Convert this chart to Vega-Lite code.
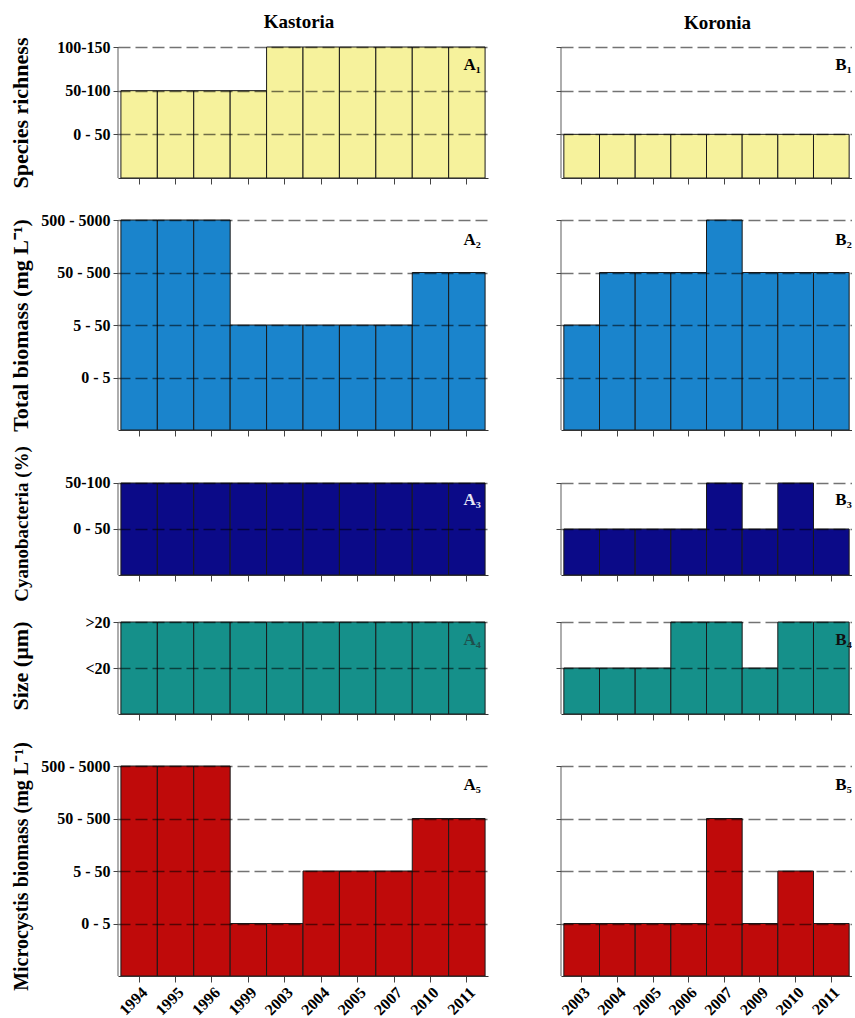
{
  "$schema": "https://vega.github.io/schema/vega-lite/v6.json",
  "padding": {"left": 9, "top": 13, "right": 0, "bottom": 0},
  "background": "white",
  "datasets": {
    "A1": [{"year": "1994", "level": 2}, {"year": "1995", "level": 2}, {"year": "1996", "level": 2}, {"year": "1999", "level": 2}, {"year": "2003", "level": 3}, {"year": "2004", "level": 3}, {"year": "2005", "level": 3}, {"year": "2007", "level": 3}, {"year": "2010", "level": 3}, {"year": "2011", "level": 3}],
    "A2": [{"year": "1994", "level": 4}, {"year": "1995", "level": 4}, {"year": "1996", "level": 4}, {"year": "1999", "level": 2}, {"year": "2003", "level": 2}, {"year": "2004", "level": 2}, {"year": "2005", "level": 2}, {"year": "2007", "level": 2}, {"year": "2010", "level": 3}, {"year": "2011", "level": 3}],
    "A3": [{"year": "1994", "level": 2}, {"year": "1995", "level": 2}, {"year": "1996", "level": 2}, {"year": "1999", "level": 2}, {"year": "2003", "level": 2}, {"year": "2004", "level": 2}, {"year": "2005", "level": 2}, {"year": "2007", "level": 2}, {"year": "2010", "level": 2}, {"year": "2011", "level": 2}],
    "A4": [{"year": "1994", "level": 2}, {"year": "1995", "level": 2}, {"year": "1996", "level": 2}, {"year": "1999", "level": 2}, {"year": "2003", "level": 2}, {"year": "2004", "level": 2}, {"year": "2005", "level": 2}, {"year": "2007", "level": 2}, {"year": "2010", "level": 2}, {"year": "2011", "level": 2}],
    "A5": [{"year": "1994", "level": 4}, {"year": "1995", "level": 4}, {"year": "1996", "level": 4}, {"year": "1999", "level": 1}, {"year": "2003", "level": 1}, {"year": "2004", "level": 2}, {"year": "2005", "level": 2}, {"year": "2007", "level": 2}, {"year": "2010", "level": 3}, {"year": "2011", "level": 3}],
    "B1": [{"year": "2003", "level": 1}, {"year": "2004", "level": 1}, {"year": "2005", "level": 1}, {"year": "2006", "level": 1}, {"year": "2007", "level": 1}, {"year": "2009", "level": 1}, {"year": "2010", "level": 1}, {"year": "2011", "level": 1}],
    "B2": [{"year": "2003", "level": 2}, {"year": "2004", "level": 3}, {"year": "2005", "level": 3}, {"year": "2006", "level": 3}, {"year": "2007", "level": 4}, {"year": "2009", "level": 3}, {"year": "2010", "level": 3}, {"year": "2011", "level": 3}],
    "B3": [{"year": "2003", "level": 1}, {"year": "2004", "level": 1}, {"year": "2005", "level": 1}, {"year": "2006", "level": 1}, {"year": "2007", "level": 2}, {"year": "2009", "level": 1}, {"year": "2010", "level": 2}, {"year": "2011", "level": 1}],
    "B4": [{"year": "2003", "level": 1}, {"year": "2004", "level": 1}, {"year": "2005", "level": 1}, {"year": "2006", "level": 2}, {"year": "2007", "level": 2}, {"year": "2009", "level": 1}, {"year": "2010", "level": 2}, {"year": "2011", "level": 2}],
    "B5": [{"year": "2003", "level": 1}, {"year": "2004", "level": 1}, {"year": "2005", "level": 1}, {"year": "2006", "level": 1}, {"year": "2007", "level": 3}, {"year": "2009", "level": 1}, {"year": "2010", "level": 2}, {"year": "2011", "level": 1}]
  },
  "hconcat": [
    {
      "vconcat": [
        {
          "width": 370, "height": 131,
          "title": {"text": "Kastoria", "offset": 5, "dx": -4},
          "data": {"name": "A1"},
          "layer": [
            {"mark": {"type": "bar", "color": "#F6F29C", "stroke": "#1a1a1a", "strokeWidth": 1},
             "encoding": {
               "x": {"field": "year", "type": "ordinal", "sort": null, "scale": {"paddingInner": 0, "paddingOuter": 0.08}, "axis": {"labels": false, "title": null, "tickSize": 6, "zindex": 1}},
               "y": {"field": "level", "type": "quantitative", "scale": {"domain": [0, 3], "nice": false}, "axis": {"values": [1, 2, 3], "labelExpr": "['', '0 - 50', '50-100', '100-150'][datum.value]", "title": "Species richness", "domain": false, "grid": true, "zindex": 1, "minExtent": 80, "maxExtent": 80, "titlePadding": 6}}
             }},
            {"data": {"values": [{}]}, "mark": {"type": "rule", "color": "#777", "strokeWidth": 1.2},
             "encoding": {"x": {"datum": "1994", "bandPosition": -0.08}, "y": {"datum": 0}, "y2": {"datum": 3}}},
            {"data": {"values": [{}]}, "mark": {"type": "text", "text": "A₁", "align": "right", "baseline": "top", "dx": 14, "dy": 10, "fontSize": 17, "fontWeight": "bold", "color": "#000"},
             "encoding": {"x": {"datum": "2011"}, "y": {"datum": 3}}}
          ]
        },
        {
          "width": 370, "height": 210,
          "data": {"name": "A2"},
          "layer": [
            {"mark": {"type": "bar", "color": "#1A84CC", "stroke": "#1a1a1a", "strokeWidth": 1},
             "encoding": {
               "x": {"field": "year", "type": "ordinal", "sort": null, "scale": {"paddingInner": 0, "paddingOuter": 0.08}, "axis": {"labels": false, "title": null, "tickSize": 6, "zindex": 1}},
               "y": {"field": "level", "type": "quantitative", "scale": {"domain": [0, 4], "nice": false}, "axis": {"values": [1, 2, 3, 4], "labelExpr": "['', '0 - 5', '5 - 50', '50 - 500', '500 - 5000'][datum.value]", "title": "Total biomass (mg L⁻¹)", "domain": false, "grid": true, "zindex": 1, "minExtent": 80, "maxExtent": 80, "titlePadding": 6}}
             }},
            {"data": {"values": [{}]}, "mark": {"type": "rule", "color": "#777", "strokeWidth": 1.2},
             "encoding": {"x": {"datum": "1994", "bandPosition": -0.08}, "y": {"datum": 0}, "y2": {"datum": 4}}},
            {"data": {"values": [{}]}, "mark": {"type": "text", "text": "A₂", "align": "right", "baseline": "top", "dx": 14, "dy": 12, "fontSize": 17, "fontWeight": "bold", "color": "#000"},
             "encoding": {"x": {"datum": "2011"}, "y": {"datum": 4}}}
          ]
        },
        {
          "width": 370, "height": 103,
          "data": {"name": "A3"},
          "layer": [
            {"mark": {"type": "bar", "color": "#0B0A88", "stroke": "#1a1a1a", "strokeWidth": 1},
             "encoding": {
               "x": {"field": "year", "type": "ordinal", "sort": null, "scale": {"paddingInner": 0, "paddingOuter": 0.08}, "axis": {"labels": false, "title": null, "tickSize": 6, "zindex": 1}},
               "y": {"field": "level", "type": "quantitative", "scale": {"domain": [0, 2.2391], "nice": false}, "axis": {"values": [1, 2], "labelExpr": "['', '0 - 50', '50-100'][datum.value]", "title": "Cyanobacteria (%)", "titleFontSize": 19, "domain": false, "grid": true, "zindex": 1, "minExtent": 80, "maxExtent": 80, "titlePadding": 7}}
             }},
            {"data": {"values": [{}]}, "mark": {"type": "rule", "color": "#777", "strokeWidth": 1.2},
             "encoding": {"x": {"datum": "1994", "bandPosition": -0.08}, "y": {"datum": 0}, "y2": {"datum": 2}}},
            {"data": {"values": [{}]}, "mark": {"type": "text", "text": "A₃", "align": "right", "baseline": "top", "dx": 14, "dy": 9, "fontSize": 17, "fontWeight": "bold", "color": "#e6e6f5"},
             "encoding": {"x": {"datum": "2011"}, "y": {"datum": 2}}}
          ]
        },
        {
          "width": 370, "height": 97,
          "data": {"name": "A4"},
          "layer": [
            {"mark": {"type": "bar", "color": "#15908A", "stroke": "#1a1a1a", "strokeWidth": 1},
             "encoding": {
               "x": {"field": "year", "type": "ordinal", "sort": null, "scale": {"paddingInner": 0, "paddingOuter": 0.08}, "axis": {"labels": false, "title": null, "tickSize": 6, "zindex": 1}},
               "y": {"field": "level", "type": "quantitative", "scale": {"domain": [0, 2.1087], "nice": false}, "axis": {"values": [1, 2], "labelExpr": "['', '<20', '>20'][datum.value]", "title": "Size (µm)", "domain": false, "grid": true, "zindex": 1, "minExtent": 80, "maxExtent": 80, "titlePadding": 6}}
             }},
            {"data": {"values": [{}]}, "mark": {"type": "rule", "color": "#777", "strokeWidth": 1.2},
             "encoding": {"x": {"datum": "1994", "bandPosition": -0.08}, "y": {"datum": 0}, "y2": {"datum": 2}}},
            {"data": {"values": [{}]}, "mark": {"type": "text", "text": "A₄", "align": "right", "baseline": "top", "dx": 14, "dy": 10, "fontSize": 17, "fontWeight": "bold", "color": "#1f4f4c"},
             "encoding": {"x": {"datum": "2011"}, "y": {"datum": 2}}}
          ]
        },
        {
          "width": 370, "height": 220,
          "data": {"name": "A5"},
          "layer": [
            {"mark": {"type": "bar", "color": "#BF0A0A", "stroke": "#1a1a1a", "strokeWidth": 1},
             "encoding": {
               "x": {"field": "year", "type": "ordinal", "sort": null, "scale": {"paddingInner": 0, "paddingOuter": 0.08}, "axis": {"labelAngle": -45, "labelPadding": 2, "title": null, "tickSize": 6, "zindex": 1}},
               "y": {"field": "level", "type": "quantitative", "scale": {"domain": [0, 4.1905], "nice": false}, "axis": {"values": [1, 2, 3, 4], "labelExpr": "['', '0 - 5', '5 - 50', '50 - 500', '500 - 5000'][datum.value]", "title": "Microcystis biomass (mg L⁻¹)", "titleFontSize": 20, "domain": false, "grid": true, "zindex": 1, "minExtent": 80, "maxExtent": 80, "titlePadding": 7}}
             }},
            {"data": {"values": [{}]}, "mark": {"type": "rule", "color": "#777", "strokeWidth": 1.2},
             "encoding": {"x": {"datum": "1994", "bandPosition": -0.08}, "y": {"datum": 0}, "y2": {"datum": 4}}},
            {"data": {"values": [{}]}, "mark": {"type": "text", "text": "A₅", "align": "right", "baseline": "top", "dx": 14, "dy": 11, "fontSize": 17, "fontWeight": "bold", "color": "#000"},
             "encoding": {"x": {"datum": "2011"}, "y": {"datum": 4}}}
          ]
        }
      ],
      "spacing": 42, "bounds": "flush"
    },
    {
      "vconcat": [
        {
          "width": 291, "height": 131,
          "title": {"text": "Koronia", "offset": 13, "dx": 11},
          "data": {"name": "B1"},
          "layer": [
            {"mark": {"type": "bar", "color": "#F6F29C", "stroke": "#1a1a1a", "strokeWidth": 1},
             "encoding": {
               "x": {"field": "year", "type": "ordinal", "sort": null, "scale": {"paddingInner": 0, "paddingOuter": 0.08}, "axis": {"labels": false, "title": null, "tickSize": 6, "zindex": 1}},
               "y": {"field": "level", "type": "quantitative", "scale": {"domain": [0, 3], "nice": false}, "axis": {"values": [1, 2, 3], "labels": false, "title": null, "domain": false, "grid": true, "zindex": 1}}
             }},
            {"data": {"values": [{}]}, "mark": {"type": "rule", "color": "#777", "strokeWidth": 1.2},
             "encoding": {"x": {"datum": "2003", "bandPosition": -0.08}, "y": {"datum": 0}, "y2": {"datum": 3}}},
            {"data": {"values": [{}]}, "mark": {"type": "text", "text": "B₁", "align": "left", "baseline": "top", "dx": 4, "dy": 10, "fontSize": 17, "fontWeight": "bold", "color": "#000", "clip": true},
             "encoding": {"x": {"datum": "2011"}, "y": {"datum": 3}}}
          ]
        },
        {
          "width": 291, "height": 210,
          "data": {"name": "B2"},
          "layer": [
            {"mark": {"type": "bar", "color": "#1A84CC", "stroke": "#1a1a1a", "strokeWidth": 1},
             "encoding": {
               "x": {"field": "year", "type": "ordinal", "sort": null, "scale": {"paddingInner": 0, "paddingOuter": 0.08}, "axis": {"labels": false, "title": null, "tickSize": 6, "zindex": 1}},
               "y": {"field": "level", "type": "quantitative", "scale": {"domain": [0, 4], "nice": false}, "axis": {"values": [1, 2, 3, 4], "labels": false, "title": null, "domain": false, "grid": true, "zindex": 1}}
             }},
            {"data": {"values": [{}]}, "mark": {"type": "rule", "color": "#777", "strokeWidth": 1.2},
             "encoding": {"x": {"datum": "2003", "bandPosition": -0.08}, "y": {"datum": 0}, "y2": {"datum": 4}}},
            {"data": {"values": [{}]}, "mark": {"type": "text", "text": "B₂", "align": "left", "baseline": "top", "dx": 4, "dy": 12, "fontSize": 17, "fontWeight": "bold", "color": "#000", "clip": true},
             "encoding": {"x": {"datum": "2011"}, "y": {"datum": 4}}}
          ]
        },
        {
          "width": 291, "height": 103,
          "data": {"name": "B3"},
          "layer": [
            {"mark": {"type": "bar", "color": "#0B0A88", "stroke": "#1a1a1a", "strokeWidth": 1},
             "encoding": {
               "x": {"field": "year", "type": "ordinal", "sort": null, "scale": {"paddingInner": 0, "paddingOuter": 0.08}, "axis": {"labels": false, "title": null, "tickSize": 6, "zindex": 1}},
               "y": {"field": "level", "type": "quantitative", "scale": {"domain": [0, 2.2391], "nice": false}, "axis": {"values": [1, 2], "labels": false, "title": null, "domain": false, "grid": true, "zindex": 1}}
             }},
            {"data": {"values": [{}]}, "mark": {"type": "rule", "color": "#777", "strokeWidth": 1.2},
             "encoding": {"x": {"datum": "2003", "bandPosition": -0.08}, "y": {"datum": 0}, "y2": {"datum": 2}}},
            {"data": {"values": [{}]}, "mark": {"type": "text", "text": "B₃", "align": "left", "baseline": "top", "dx": 4, "dy": 9, "fontSize": 17, "fontWeight": "bold", "color": "#000", "clip": true},
             "encoding": {"x": {"datum": "2011"}, "y": {"datum": 2}}}
          ]
        },
        {
          "width": 291, "height": 97,
          "data": {"name": "B4"},
          "layer": [
            {"mark": {"type": "bar", "color": "#15908A", "stroke": "#1a1a1a", "strokeWidth": 1},
             "encoding": {
               "x": {"field": "year", "type": "ordinal", "sort": null, "scale": {"paddingInner": 0, "paddingOuter": 0.08}, "axis": {"labels": false, "title": null, "tickSize": 6, "zindex": 1}},
               "y": {"field": "level", "type": "quantitative", "scale": {"domain": [0, 2.1087], "nice": false}, "axis": {"values": [1, 2], "labels": false, "title": null, "domain": false, "grid": true, "zindex": 1}}
             }},
            {"data": {"values": [{}]}, "mark": {"type": "rule", "color": "#777", "strokeWidth": 1.2},
             "encoding": {"x": {"datum": "2003", "bandPosition": -0.08}, "y": {"datum": 0}, "y2": {"datum": 2}}},
            {"data": {"values": [{}]}, "mark": {"type": "text", "text": "B₄", "align": "left", "baseline": "top", "dx": 4, "dy": 10, "fontSize": 17, "fontWeight": "bold", "color": "#111", "clip": true},
             "encoding": {"x": {"datum": "2011"}, "y": {"datum": 2}}}
          ]
        },
        {
          "width": 291, "height": 220,
          "data": {"name": "B5"},
          "layer": [
            {"mark": {"type": "bar", "color": "#BF0A0A", "stroke": "#1a1a1a", "strokeWidth": 1},
             "encoding": {
               "x": {"field": "year", "type": "ordinal", "sort": null, "scale": {"paddingInner": 0, "paddingOuter": 0.08}, "axis": {"labelAngle": -45, "labelPadding": 2, "title": null, "tickSize": 6, "zindex": 1}},
               "y": {"field": "level", "type": "quantitative", "scale": {"domain": [0, 4.1905], "nice": false}, "axis": {"values": [1, 2, 3, 4], "labels": false, "title": null, "domain": false, "grid": true, "zindex": 1}}
             }},
            {"data": {"values": [{}]}, "mark": {"type": "rule", "color": "#777", "strokeWidth": 1.2},
             "encoding": {"x": {"datum": "2003", "bandPosition": -0.08}, "y": {"datum": 0}, "y2": {"datum": 4}}},
            {"data": {"values": [{}]}, "mark": {"type": "text", "text": "B₅", "align": "left", "baseline": "top", "dx": 4, "dy": 11, "fontSize": 17, "fontWeight": "bold", "color": "#000", "clip": true},
             "encoding": {"x": {"datum": "2011"}, "y": {"datum": 4}}}
          ]
        }
      ],
      "spacing": 42, "bounds": "flush"
    }
  ],
  "spacing": 67,
  "config": {
    "view": {"stroke": null},
    "font": "Liberation Serif",
    "text": {"font": "Liberation Serif"},
    "title": {"font": "Liberation Serif", "fontSize": 19, "fontWeight": "bold", "color": "#000"},
    "axis": {
      "labelFont": "Liberation Serif", "labelFontSize": 16, "labelFontWeight": "bold", "labelColor": "#000",
      "titleFont": "Liberation Serif", "titleFontSize": 22, "titleFontWeight": "bold", "titleColor": "#000",
      "tickColor": "#444", "tickSize": 5, "labelPadding": 3,
      "gridDash": [12, 5], "gridColor": "#000", "gridOpacity": 0.55, "gridWidth": 1.4
    },
    "axisX": {"domainColor": "#333", "domainWidth": 1.2}
  }
}
